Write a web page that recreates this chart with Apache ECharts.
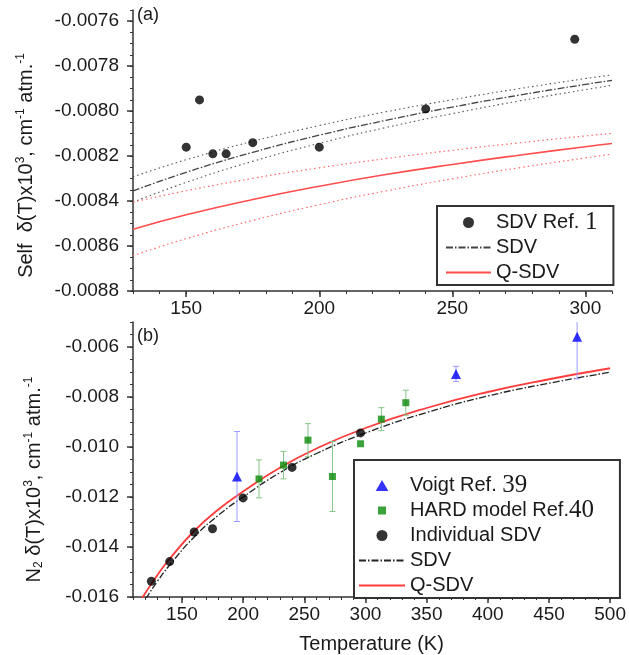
<!DOCTYPE html>
<html><head><meta charset="utf-8">
<script src="https://cdn.jsdelivr.net/npm/echarts@6/dist/echarts.min.js"></script>
<style>html,body{margin:0;padding:0;background:#fff}#c{width:629px;height:655px}</style>
</head><body><div id="c"></div>
<script>
// ---------- Panel (a): self shift ----------
const selfRefT = [150, 155, 160, 165, 175, 200, 240, 296];
const selfRefV = [-0.00816, -0.00795, -0.00819, -0.00819, -0.00814, -0.00816, -0.00799, -0.00768];
const curveTA = [130, 150, 175, 200, 225, 250, 275, 300, 310];
const sdvA      = [-0.008355, -0.008272, -0.008183, -0.008107, -0.008041, -0.007982, -0.007929, -0.007881, -0.007863];
const sdvAUpper = [-0.008292, -0.008216, -0.008134, -0.008064, -0.008003, -0.007949, -0.007900, -0.007855, -0.007839];
const sdvALower = [-0.008405, -0.008317, -0.008223, -0.008143, -0.008073, -0.008011, -0.007955, -0.007904, -0.007885];
const qsdvA      = [-0.008525, -0.008461, -0.008393, -0.008334, -0.008282, -0.008237, -0.008196, -0.008158, -0.008144];
const qsdvAUpper = [-0.008405, -0.008354, -0.008299, -0.008252, -0.008211, -0.008174, -0.008141, -0.008110, -0.008099];
const qsdvALower = [-0.008643, -0.008567, -0.008486, -0.008416, -0.008355, -0.008301, -0.008252, -0.008208, -0.008191];
const xTicksA = [150, 200, 250, 300];
const yTicksA = [-0.0088, -0.0086, -0.0084, -0.0082, -0.0080, -0.0078, -0.0076];

// ---------- Panel (b): N2 shift ----------
const voigtT   = [195, 374, 473];
const voigtV   = [-0.01118, -0.007075, -0.00559];
const voigtErr = [0.0018, 0.0003, 0.00168];
const hardT   = [213, 233, 253, 273, 296, 313, 333];
const hardV   = [-0.011276, -0.010724, -0.009725, -0.011181, -0.00987, -0.008886, -0.008228];
const hardErr = [0.00076, 0.00055, 0.00066, 0.0014, 0, 0.00046, 0.0005];
const indivT = [125, 140, 160, 175, 200, 240, 296];
const indivV = [-0.01537, -0.014583, -0.013402, -0.013268, -0.012035, -0.010815, -0.009437];
const curveTB = [115, 121, 130, 140, 160, 180, 200, 230, 260, 300, 350, 400, 450, 500];
const sdvB  = [-0.01651, -0.01603, -0.01537, -0.01472, -0.01360, -0.01272, -0.01200, -0.01103, -0.01026, -0.00944, -0.00862, -0.00796, -0.00745, -0.00701];
const qsdvB = [-0.01624, -0.01577, -0.01512, -0.01447, -0.01336, -0.01249, -0.01178, -0.01083, -0.01006, -0.00924, -0.00844, -0.00780, -0.00729, -0.00685];
const xTicksB = [150, 200, 250, 300, 350, 400, 450, 500];
const yTicksB = [-0.016, -0.014, -0.012, -0.010, -0.008, -0.006];

const legendText = {
  'SDV Ref. 1': '{a|SDV Ref. }{n|1}',
  'SDV (a)': '{a|SDV}',
  'Q-SDV (a)': '{a|Q-SDV}',
  'Voigt Ref. 39': '{a|Voigt Ref. }{n|39}',
  'HARD model Ref. 40': '{a|HARD model Ref.}{n|40}',
  'Individual SDV': '{a|Individual SDV}',
  'SDV (b)': '{a|SDV}',
  'Q-SDV (b)': '{a|Q-SDV}'
};

const FONT = '"Liberation Sans", Arial, sans-serif';
const TXT = '#1a1a1a';
const AX = '#333';
const TICKFS = 19;

const zip = (a, b, c) => a.map((v, i) => c ? [v, b[i], c[i]] : [v, b[i]]);

function mainAxis(grid, min, max, ticks, extra) {
  return Object.assign({
    type: 'value', gridIndex: grid, min: min, max: max,
    axisLine: { show: true, onZero: false, lineStyle: { color: AX, width: 1.5 } },
    axisTick: { show: true, customValues: ticks, length: 6, lineStyle: { color: AX, width: 1.5 } },
    splitLine: { show: false }
  }, extra);
}
function minorAxis(grid, min, max, step, pos) {
  return {
    type: 'value', gridIndex: grid, min: min, max: max, interval: step, position: pos,
    axisLine: { show: false, onZero: false },
    axisTick: { show: true, length: 3, lineStyle: { color: AX, width: 1 } },
    axisLabel: { show: false }, splitLine: { show: false }
  };
}

const nameRich = {
  t: { fontSize: 20, fontFamily: FONT, color: TXT, lineHeight: 22 },
  s: { fontSize: 12, fontFamily: FONT, color: TXT, lineHeight: 12, verticalAlign: 'top' },
  u: { fontSize: 12, fontFamily: FONT, color: TXT, lineHeight: 12, verticalAlign: 'bottom' }
};

function errRender(color) {
  return function (params, api) {
    const x = api.value(0), y = api.value(1), e = api.value(2);
    if (!e) return null;
    const top = api.coord([x, y + e]), bot = api.coord([x, y - e]);
    const w = 3;
    const st = { stroke: color, lineWidth: 1 };
    return { type: 'group', children: [
      { type: 'line', shape: { x1: top[0], y1: top[1], x2: bot[0], y2: bot[1] }, style: st },
      { type: 'line', shape: { x1: top[0] - w, y1: top[1], x2: top[0] + w, y2: top[1] }, style: st },
      { type: 'line', shape: { x1: bot[0] - w, y1: bot[1], x2: bot[0] + w, y2: bot[1] }, style: st }
    ]};
  };
}

const SMALL_SQUARE = 'path://M0,0 M11,11 M1.5,1.5 L9.5,1.5 L9.5,9.5 L1.5,9.5 Z';
const TRIANGLE = 'path://M6,0 L12,10.4 L0,10.4 Z';
const hideSym = { opacity: 0 };

function legendCfg(data, left, top, itemWidth, padding) {
  return {
    data: data, orient: 'vertical', left: left, top: top,
    itemWidth: itemWidth, itemHeight: 11, itemGap: 0, padding: padding,
    symbolKeepAspect: true,
    borderColor: '#333', borderWidth: 2, backgroundColor: '#fff', selectedMode: false,
    formatter: n => legendText[n] || n,
    textStyle: { fontSize: 20, fontFamily: FONT, color: TXT, lineHeight: 25,
      rich: {
        a: { fontSize: 20, fontFamily: FONT, color: TXT, lineHeight: 25 },
        n: { fontSize: 25, fontFamily: '"Liberation Serif", "Times New Roman", serif', color: TXT, lineHeight: 25 }
      } }
  };
}

const lineS = (name, xi, yi, data, color, width, type, z) => ({
  name: name, type: 'line', xAxisIndex: xi, yAxisIndex: yi, data: data,
  symbol: 'none', smooth: true, clip: true, silent: true, z: z || 2,
  lineStyle: { color: color, width: width, type: type }, itemStyle: { color: color }
});

const labelCfg = (ticks, dec, margin) => ({
  customValues: ticks, fontSize: TICKFS, fontFamily: FONT, color: TXT, margin: margin,
  formatter: v => dec ? Number(v).toFixed(dec) : String(Math.round(v))
});

const option = {
  animation: false,
  backgroundColor: '#fff',
  title: [
    { text: '(a)', left: 137, top: 6, padding: 0, textStyle: { fontSize: 18, fontWeight: 'normal', fontFamily: FONT, color: TXT } },
    { text: '(b)', left: 137, top: 327, padding: 0, textStyle: { fontSize: 18, fontWeight: 'normal', fontFamily: FONT, color: TXT } }
  ],
  grid: [
    { left: 133, right: 17, top: 10, height: 281 },
    { left: 133, right: 17, top: 322, height: 280 }
  ],
  xAxis: [
    mainAxis(0, 130, 310, xTicksA, { position: 'bottom', axisLabel: labelCfg(xTicksA, 0, 8) }),
    minorAxis(0, 130, 310, 10, 'bottom'),
    mainAxis(1, 110, 500, xTicksB, { position: 'bottom', name: 'Temperature (K)', nameLocation: 'middle', nameGap: 37,
      nameTextStyle: { fontSize: 20, fontFamily: FONT, color: TXT },
      axisLabel: labelCfg(xTicksB, 0, 8) }),
    minorAxis(1, 110, 500, 10, 'bottom')
  ],
  yAxis: [
    mainAxis(0, -0.0088, -0.00755, yTicksA, { position: 'left',
      axisLabel: labelCfg(yTicksA, 4, 14),
      name: '{t|Self  δ(T)x10}{s|3}{t|, cm}{s|-1}{t| atm.}{s|-1}', nameLocation: 'middle', nameGap: 96,
      nameTextStyle: { fontSize: 20, fontFamily: FONT, color: TXT, padding: [0, 30, 0, 0], rich: nameRich } }),
    minorAxis(0, -0.0088, -0.00755, 0.00005, 'left'),
    mainAxis(1, -0.016, -0.005, yTicksB, { position: 'left',
      axisLabel: labelCfg(yTicksB, 3, 14),
      name: '{t|N}{u|2}{t| δ(T)x10}{s|3}{t|, cm}{s|-1}{t| atm.}{s|-1}', nameLocation: 'middle', nameGap: 88,
      nameTextStyle: { fontSize: 20, fontFamily: FONT, color: TXT, padding: [0, 40, 0, 0], rich: nameRich } }),
    minorAxis(1, -0.016, -0.005, 0.0005, 'left')
  ],
  legend: [
    legendCfg([
      { name: 'SDV Ref. 1', icon: 'circle' },
      { name: 'SDV (a)', itemStyle: hideSym },
      { name: 'Q-SDV (a)', itemStyle: hideSym }
    ], 437, 206, 45, [4, 16, 0, 8]),
    legendCfg([
      { name: 'Voigt Ref. 39', icon: TRIANGLE },
      { name: 'HARD model Ref. 40', icon: SMALL_SQUARE },
      { name: 'Individual SDV', icon: 'circle' },
      { name: 'SDV (b)', itemStyle: hideSym },
      { name: 'Q-SDV (b)', itemStyle: hideSym }
    ], 354, 460, 46, [13, 26, 0, 4])
  ],
  series: [
    // panel a
    lineS('sdv upper', 0, 0, zip(curveTA, sdvAUpper), '#555', 1.1, [1.5, 3]),
    lineS('sdv lower', 0, 0, zip(curveTA, sdvALower), '#555', 1.1, [1.5, 3]),
    lineS('SDV (a)', 0, 0, zip(curveTA, sdvA), '#444', 1.3, [7, 2, 1.5, 2]),
    lineS('qsdv upper', 0, 0, zip(curveTA, qsdvAUpper), '#ff6a6a', 1.2, [1.5, 3]),
    lineS('qsdv lower', 0, 0, zip(curveTA, qsdvALower), '#ff6a6a', 1.2, [1.5, 3]),
    lineS('Q-SDV (a)', 0, 0, zip(curveTA, qsdvA), '#ff4d4d', 1.6, 'solid'),
    { name: 'SDV Ref. 1', type: 'scatter', xAxisIndex: 0, yAxisIndex: 0, data: zip(selfRefT, selfRefV),
      symbol: 'circle', symbolSize: 9, itemStyle: { color: '#000' }, z: 5 },
    // panel b
    lineS('SDV (b)', 2, 2, zip(curveTB, sdvB), '#222', 1.3, [7, 2, 1.5, 2]),
    lineS('Q-SDV (b)', 2, 2, zip(curveTB, qsdvB), '#ff3b3b', 1.8, 'solid', 3),
    { name: 'hard err', type: 'custom', xAxisIndex: 2, yAxisIndex: 2, clip: true, silent: true, z: 4,
      data: zip(hardT, hardV, hardErr), encode: { x: 0, y: 1 }, renderItem: errRender('#86c486') },
    { name: 'voigt err', type: 'custom', xAxisIndex: 2, yAxisIndex: 2, clip: true, silent: true, z: 4,
      data: zip(voigtT, voigtV, voigtErr), encode: { x: 0, y: 1 }, renderItem: errRender('#9a9aff') },
    { name: 'Voigt Ref. 39', type: 'scatter', xAxisIndex: 2, yAxisIndex: 2, data: zip(voigtT, voigtV),
      symbol: 'triangle', symbolSize: 10, itemStyle: { color: '#0000ff' }, z: 5 },
    { name: 'HARD model Ref. 40', type: 'scatter', xAxisIndex: 2, yAxisIndex: 2, data: zip(hardT, hardV),
      symbol: 'rect', symbolSize: 7, itemStyle: { color: '#0a8a0a' }, z: 5 },
    { name: 'Individual SDV', type: 'scatter', xAxisIndex: 2, yAxisIndex: 2, data: zip(indivT, indivV),
      symbol: 'circle', symbolSize: 9, itemStyle: { color: '#000' }, z: 5 }
  ]
};

const chart = echarts.init(document.getElementById('c'), null, { renderer: 'canvas' });
chart.setOption(option);
</script>
</body></html>
